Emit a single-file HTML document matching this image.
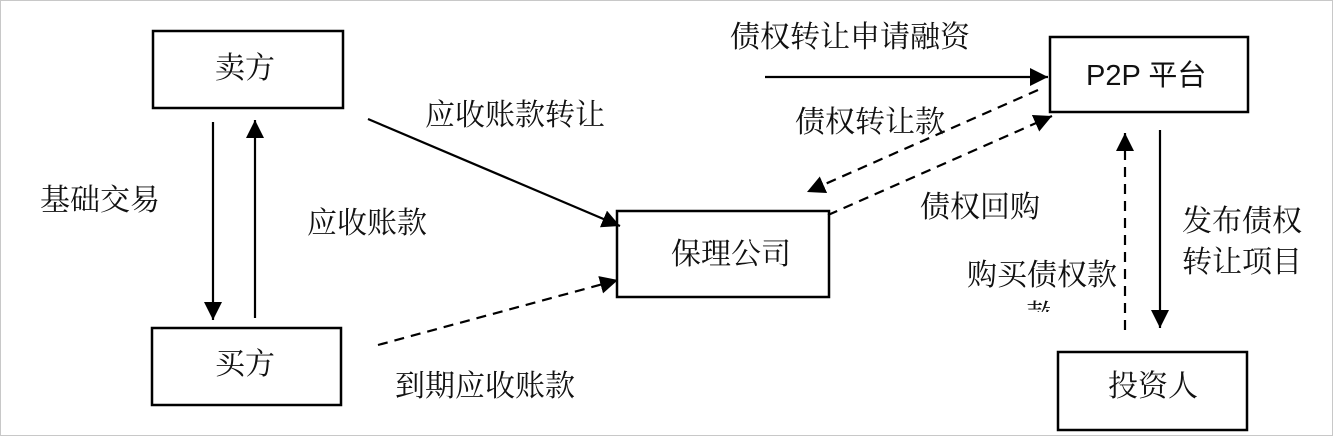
<!DOCTYPE html>
<html><head><meta charset="utf-8"><style>
html,body{margin:0;padding:0;background:#fff}
svg{display:block}
text{font-family:"Noto Serif CJK SC","Liberation Serif","Noto Sans CJK SC",serif;font-size:30px;fill:#111}
</style></head><body>
<svg width="1333" height="437" viewBox="0 0 1333 437" xmlns="http://www.w3.org/2000/svg">
<defs>
<marker id="b" viewBox="0 0 10 10" refX="10" refY="5" markerWidth="18" markerHeight="18" markerUnits="userSpaceOnUse" orient="auto"><path d="M0,0L10,5L0,10z" fill="#000"/></marker>
</defs>
<rect x="0.5" y="0.5" width="1332" height="435" fill="#fff" stroke="#c8c8c8"/>
<g fill="none" stroke="#000" stroke-width="2.5">
<rect x="153" y="31" width="190" height="77"/>
<rect x="152" y="328" width="189" height="77"/>
<rect x="617" y="211" width="212" height="86"/>
<rect x="1050" y="37" width="198" height="75"/>
<rect x="1058" y="352" width="189" height="78"/>
</g>
<g stroke="#000" stroke-width="2.2" fill="none">
<line x1="213" y1="122" x2="213" y2="320" marker-end="url(#b)"/>
<line x1="255" y1="318" x2="255" y2="120" marker-end="url(#b)"/>
<line x1="368" y1="119" x2="620" y2="226" marker-end="url(#b)"/>
<line x1="765" y1="77" x2="1048" y2="77" marker-end="url(#b)"/>
<line x1="1160" y1="130" x2="1160" y2="328" marker-end="url(#b)"/>
</g>
<g stroke="#000" stroke-width="2.2" fill="none" stroke-dasharray="10,7">
<line x1="378" y1="345" x2="618" y2="280" marker-end="url(#b)"/>
<line x1="1038" y1="90" x2="807" y2="192" marker-end="url(#b)"/>
<line x1="828" y1="215" x2="1052" y2="116" marker-end="url(#b)"/>
<line x1="1125" y1="330" x2="1125" y2="133" marker-end="url(#b)"/>
</g>
<text x="215" y="78">卖方</text>
<text x="215" y="374">买方</text>
<text x="671" y="264">保理公司</text>
<text x="1086" y="85" style="font-family:'Liberation Sans','Noto Sans CJK SC',sans-serif;font-size:29px">P2P 平台</text>
<text x="1108" y="396">投资人</text>
<text x="40" y="210">基础交易</text>
<text x="307" y="233">应收账款</text>
<text x="425" y="125">应收账款转让</text>
<text x="395" y="396">到期应收账款</text>
<text x="730" y="47">债权转让申请融资</text>
<text x="795" y="132">债权转让款</text>
<text x="920" y="217">债权回购</text>
<text x="967" y="285">购买债权款</text>
<text x="1182" y="231">发布债权</text>
<text x="1182" y="272">转让项目</text>
<svg x="1020" y="300" width="30" height="12" overflow="hidden"><text x="6" y="26">款</text></svg>
</svg>
</body></html>
